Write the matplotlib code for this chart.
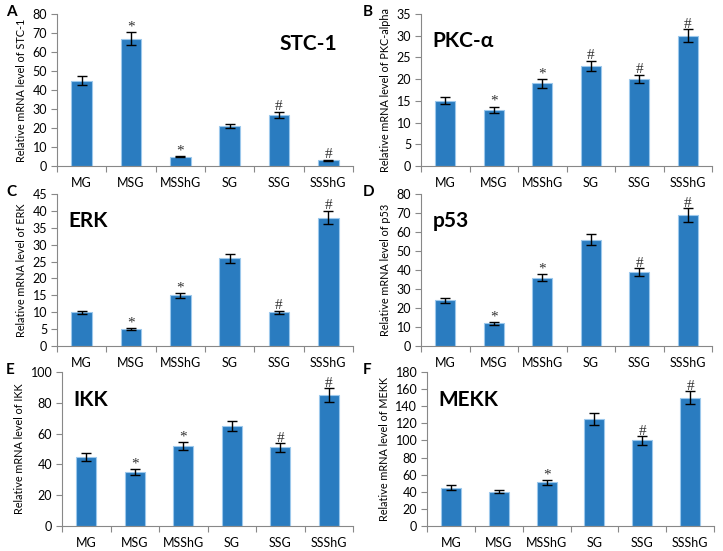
import matplotlib
matplotlib.use("Agg")
import matplotlib.pyplot as plt
import numpy as np

plt.rcParams['font.family'] = ['Lato', 'DejaVu Sans']

groups = ['MG', 'MSG', 'MSShG', 'SG', 'SSG', 'SSShG']

genes = ['STC-1', 'PKC-α', 'ERK', 'p53', 'IKK', 'MEKK']
ylabels = ['STC-1', 'PKC-alpha', 'ERK', 'p53', 'IKK', 'MEKK']
letters = ['A', 'B', 'C', 'D', 'E', 'F']

stc1 = [45, 67, 5, 21, 27, 3]
stc1_err = [2.5, 3.5, 0.5, 1.2, 1.5, 0.3]
stc1_sig = ['', '*', '*', '', '#', '#']

pkc = [15, 13, 19, 23, 20, 30]
pkc_err = [0.8, 0.7, 1.0, 1.2, 1.0, 1.5]
pkc_sig = ['', '*', '*', '#', '#', '#']

erk = [10, 5, 15, 26, 10, 38]
erk_err = [0.5, 0.25, 0.8, 1.3, 0.5, 2.0]
erk_sig = ['', '*', '*', '', '#', '#']

p53 = [24, 12, 36, 56, 39, 69]
p53_err = [1.3, 0.7, 2.0, 3.0, 2.0, 3.5]
p53_sig = ['', '*', '*', '', '#', '#']

ikk = [45, 35, 52, 65, 51, 85]
ikk_err = [2.5, 2.0, 2.8, 3.5, 2.7, 4.5]
ikk_sig = ['', '*', '*', '', '#', '#']

mekk = [45, 40, 51, 125, 100, 150]
mekk_err = [2.5, 2.0, 2.5, 6.5, 5.0, 7.5]
mekk_sig = ['', '', '*', '', '#', '#']

values = [stc1, pkc, erk, p53, ikk, mekk]
errors = [stc1_err, pkc_err, erk_err, p53_err, ikk_err, mekk_err]
sigs = [stc1_sig, pkc_sig, erk_sig, p53_sig, ikk_sig, mekk_sig]
ymax = [80, 35, 45, 80, 100, 180]
ystep = [10, 5, 5, 10, 20, 20]

# axes boxes in pixels: left, right, top, bottom
W, H = 723, 551
boxes = [(57, 353, 14, 166), (421, 712, 14, 166),
         (57, 353, 194, 346), (421, 712, 194, 346),
         (62, 353, 372, 526), (427, 714, 372, 526)]

fig = plt.figure(figsize=(W / 100, H / 100), dpi=100)
x = np.arange(len(groups))

for i in range(6):
    l, r, t, b = boxes[i]
    ax = fig.add_axes([l / W, 1 - b / H, (r - l) / W, (b - t) / H])
    ax.bar(x, values[i], width=0.42, color='#2A7CC0', edgecolor='#9CC8EC', linewidth=0.8)
    ax.errorbar(x, values[i], yerr=errors[i], fmt='none', ecolor='black',
                elinewidth=1.0, capsize=3.5, capthick=1.0)
    for xi, v, e, s in zip(x, values[i], errors[i], sigs[i]):
        if s:
            ax.text(xi, v + e - ymax[i] * 0.01, s, ha='center', va='bottom',
                    fontsize=11, family='Liberation Serif', color='#333333')
    ax.set_xlim(-0.5, 5.5)
    ax.set_ylim(0, ymax[i])
    ax.set_yticks(np.arange(0, ymax[i] + 1, ystep[i]))
    ax.set_xticks(np.arange(-0.5, 6, 1))
    ax.set_xticklabels([])
    ax.set_xticks(x, minor=True)
    ax.set_xticklabels(groups, minor=True)
    ax.tick_params(axis='x', which='minor', length=0, pad=8, labelsize=9)
    ax.tick_params(axis='x', which='major', length=4, color='#888888')
    ax.tick_params(axis='y', length=4, color='#888888', labelsize=9, pad=3)
    for sp in ['top', 'right']:
        ax.spines[sp].set_visible(False)
    for sp in ['left', 'bottom']:
        ax.spines[sp].set_color('#888888')
    ax.set_ylabel('Relative mRNA level of ' + ylabels[i], fontsize=7.8, labelpad=4)
    if i == 0:
        ax.text(0.75, 0.80, genes[i], transform=ax.transAxes, fontsize=15,
                fontweight='bold', ha='left', va='center')
    else:
        ax.text(0.04, 0.82, genes[i], transform=ax.transAxes, fontsize=15,
                fontweight='bold', ha='left', va='center')
    lx = 6 if i % 2 == 0 else 363
    fig.text(lx / W, 1 - (t - 2) / H, letters[i], fontsize=11,
             fontweight='bold', ha='left', va='center')

fig.savefig('out.png', dpi=100)
